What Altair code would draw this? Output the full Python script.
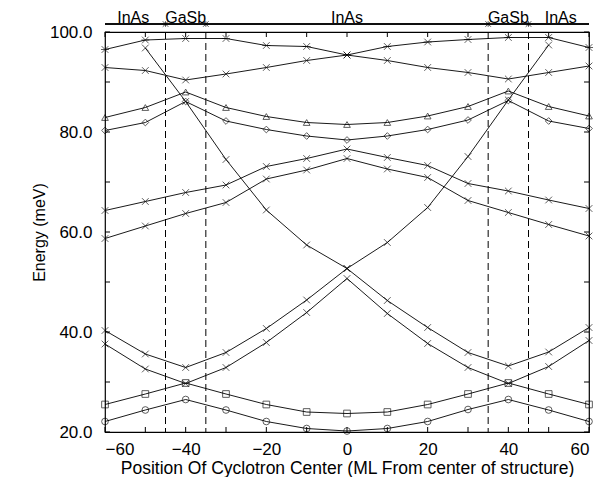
import altair as alt
import pandas as pd

# ---------------- data ----------------
positions = [-60, -50, -40, -30, -20, -10, 0, 10, 20, 30, 40, 50, 60]

star_top = [96.5, 98.4, 98.7, 98.7, 97.3, 97.1, 95.4, 97.1, 98.0, 98.5, 98.9, 98.9, 96.9]
cross_top = [92.9, 92.3, 90.4, 91.6, 92.9, 94.3, 95.4, 94.3, 92.9, 91.9, 90.6, 91.9, 93.2]
triangle_vals = [82.9, 84.9, 88.0, 84.9, 83.1, 81.9, 81.5, 81.9, 83.2, 85.1, 88.2, 85.1, 83.2]
diamond_vals = [80.3, 81.9, 86.1, 82.2, 80.5, 79.2, 78.4, 79.2, 80.5, 82.4, 86.3, 82.2, 80.7]
mid_upper = [64.3, 66.1, 67.9, 69.4, 73.1, 74.7, 76.6, 74.9, 73.3, 69.7, 68.2, 66.4, 64.7]
mid_lower = [58.7, 61.2, 63.7, 65.9, 70.6, 72.4, 74.7, 72.6, 70.9, 66.3, 63.9, 61.5, 59.2]

fall_x = [-50, -40, -30, -20, -10, 0, 10, 20, 30, 40, 50, 60]
fall_vals = [96.8, 86.1, 74.5, 64.4, 57.4, 52.7, 46.3, 40.9, 35.9, 33.2, 36.0, 40.9]
rise_x = [-60, -50, -40, -30, -20, -10, 0, 10, 20, 30, 40, 50]
rise_vals = [40.3, 35.6, 32.9, 35.9, 40.7, 46.4, 52.7, 57.9, 64.9, 75.1, 86.4, 97.4]

lambda_vals = [37.6, 32.6, 29.7, 32.9, 37.9, 43.9, 50.7, 43.7, 37.7, 32.9, 29.7, 33.1, 38.3]
square_vals = [25.5, 27.6, 29.8, 27.6, 25.5, 24.0, 23.7, 24.0, 25.5, 27.6, 29.8, 27.6, 25.5]
circle_vals = [22.1, 24.4, 26.5, 24.4, 22.1, 20.7, 20.2, 20.7, 22.1, 24.5, 26.5, 24.4, 22.1]

boundaries = [-45, -35, 35, 45]
layer_labels = ["InAs", "GaSb", "InAs", "GaSb", "InAs"]
layer_label_x = [-53, -40, 0, 40, 53]

x_ticks = [-60, -50, -40, -30, -20, -10, 0, 10, 20, 30, 40, 50, 60]
y_ticks = [20, 30, 40, 50, 60, 70, 80, 90, 100]
x_label_values = [-60, -40, -20, 0, 20, 40, 60]
y_label_values = [20, 40, 60, 80, 100]

# ---------------- build tables ----------------
XMARK = "M-1,-1L1,1M-1,1L1,-1"
STAR = "M-1,-1L1,1M-1,1L1,-1M-1.2,0L1.2,0"

series = [
    ("star", positions, star_top, STAR),
    ("xtop", positions, cross_top, XMARK),
    ("tri", positions, triangle_vals, "triangle-up"),
    ("dia", positions, diamond_vals, "diamond"),
    ("midhi", positions, mid_upper, XMARK),
    ("midlo", positions, mid_lower, XMARK),
    ("fall", fall_x, fall_vals, XMARK),
    ("rise", rise_x, rise_vals, XMARK),
    ("lam", positions, lambda_vals, XMARK),
    ("sq", positions, square_vals, "square"),
    ("circ", positions, circle_vals, "circle"),
]
rows = []
for name, xs, ys, _ in series:
    for xv, yv in zip(xs, ys):
        rows.append({"series": name, "pos": xv, "energy": yv})
df = pd.DataFrame(rows)
shape_domain = [s[0] for s in series]
shape_range = [s[3] for s in series]

xscale = alt.Scale(domain=[-60, 60], nice=False, zero=False)
yscale = alt.Scale(domain=[20, 100], nice=False, zero=False)
FONT = "Liberation Sans"

base = alt.Chart(df)
lines = base.mark_line(color="black", strokeWidth=0.9).encode(
    x=alt.X("pos:Q", scale=xscale,
            axis=alt.Axis(values=x_label_values, format="d", tickSize=0, domain=False, grid=False,
                          labelFontSize=17, labelFont=FONT, labelColor="black", labelPadding=9,
                          title="Position Of Cyclotron Center (ML From center of structure)",
                          titleFontSize=17.5, titleFont=FONT, titleFontWeight="normal",
                          titleColor="black", titlePadding=2)),
    y=alt.Y("energy:Q", scale=yscale,
            axis=alt.Axis(values=y_label_values, format=".1f", tickSize=0, domain=False, grid=False,
                          labelFontSize=17, labelFont=FONT, labelColor="black", labelPadding=13,
                          title="Energy (meV)", titleFontSize=16, titleFont=FONT,
                          titleFontWeight="normal", titleColor="black", titlePadding=2)),
    detail="series:N",
)
points = base.mark_point(color="black", filled=False, size=45, strokeWidth=0.9).encode(
    x=alt.X("pos:Q", scale=xscale),
    y=alt.Y("energy:Q", scale=yscale),
    shape=alt.Shape("series:N", scale=alt.Scale(domain=shape_domain, range=shape_range), legend=None),
)

bdf = pd.DataFrame({"b": boundaries})
dashed = alt.Chart(bdf).mark_rule(color="black", strokeWidth=1, strokeDash=[7, 4]).encode(
    x=alt.X("b:Q", scale=xscale), y=alt.value(0), y2=alt.value(400)
)
bmarks = alt.Chart(bdf).mark_point(color="black", filled=False, size=30, strokeWidth=1,
                                   shape="M-1,-1L0,0L-1,1M1,-1L0,0L1,1M0,-1L0,1").encode(
    x=alt.X("b:Q", scale=xscale), y=alt.value(-8)
)
topline = alt.Chart(bdf).mark_rule(color="black", strokeWidth=1).encode(
    x=alt.datum(-60, scale=xscale), x2=alt.datum(60), y=alt.value(-8)
)
ldf = pd.DataFrame({"lab": layer_labels, "lx": layer_label_x})
labels = alt.Chart(ldf).mark_text(font=FONT, fontSize=16, color="black", baseline="alphabetic",
                                  align="center").encode(
    x=alt.X("lx:Q", scale=xscale), y=alt.value(-9.5), text="lab:N"
)

xt = pd.DataFrame({"t": x_ticks})
yt = pd.DataFrame({"t": y_ticks})
tick_style = dict(color="black", strokeWidth=1)
tb = alt.Chart(xt).mark_rule(**tick_style).encode(x=alt.X("t:Q", scale=xscale), y=alt.value(400), y2=alt.value(395))
tt = alt.Chart(xt).mark_rule(**tick_style).encode(x=alt.X("t:Q", scale=xscale), y=alt.value(0), y2=alt.value(5))
tl = alt.Chart(yt).mark_rule(**tick_style).encode(y=alt.Y("t:Q", scale=yscale), x=alt.value(0), x2=alt.value(5))
tr = alt.Chart(yt).mark_rule(**tick_style).encode(y=alt.Y("t:Q", scale=yscale), x=alt.value(484), x2=alt.value(479))

chart = alt.layer(lines, points, dashed, topline, bmarks, labels, tb, tt, tl, tr).properties(
    width=484, height=400,
    autosize=alt.AutoSizeParams(type="none"),
    padding={"left": 97, "top": 24, "right": 10, "bottom": 45},
    background="white",
).configure_view(stroke="black", strokeWidth=1.2)

chart.save("out.html", embed_options={"renderer": "svg", "actions": False})
